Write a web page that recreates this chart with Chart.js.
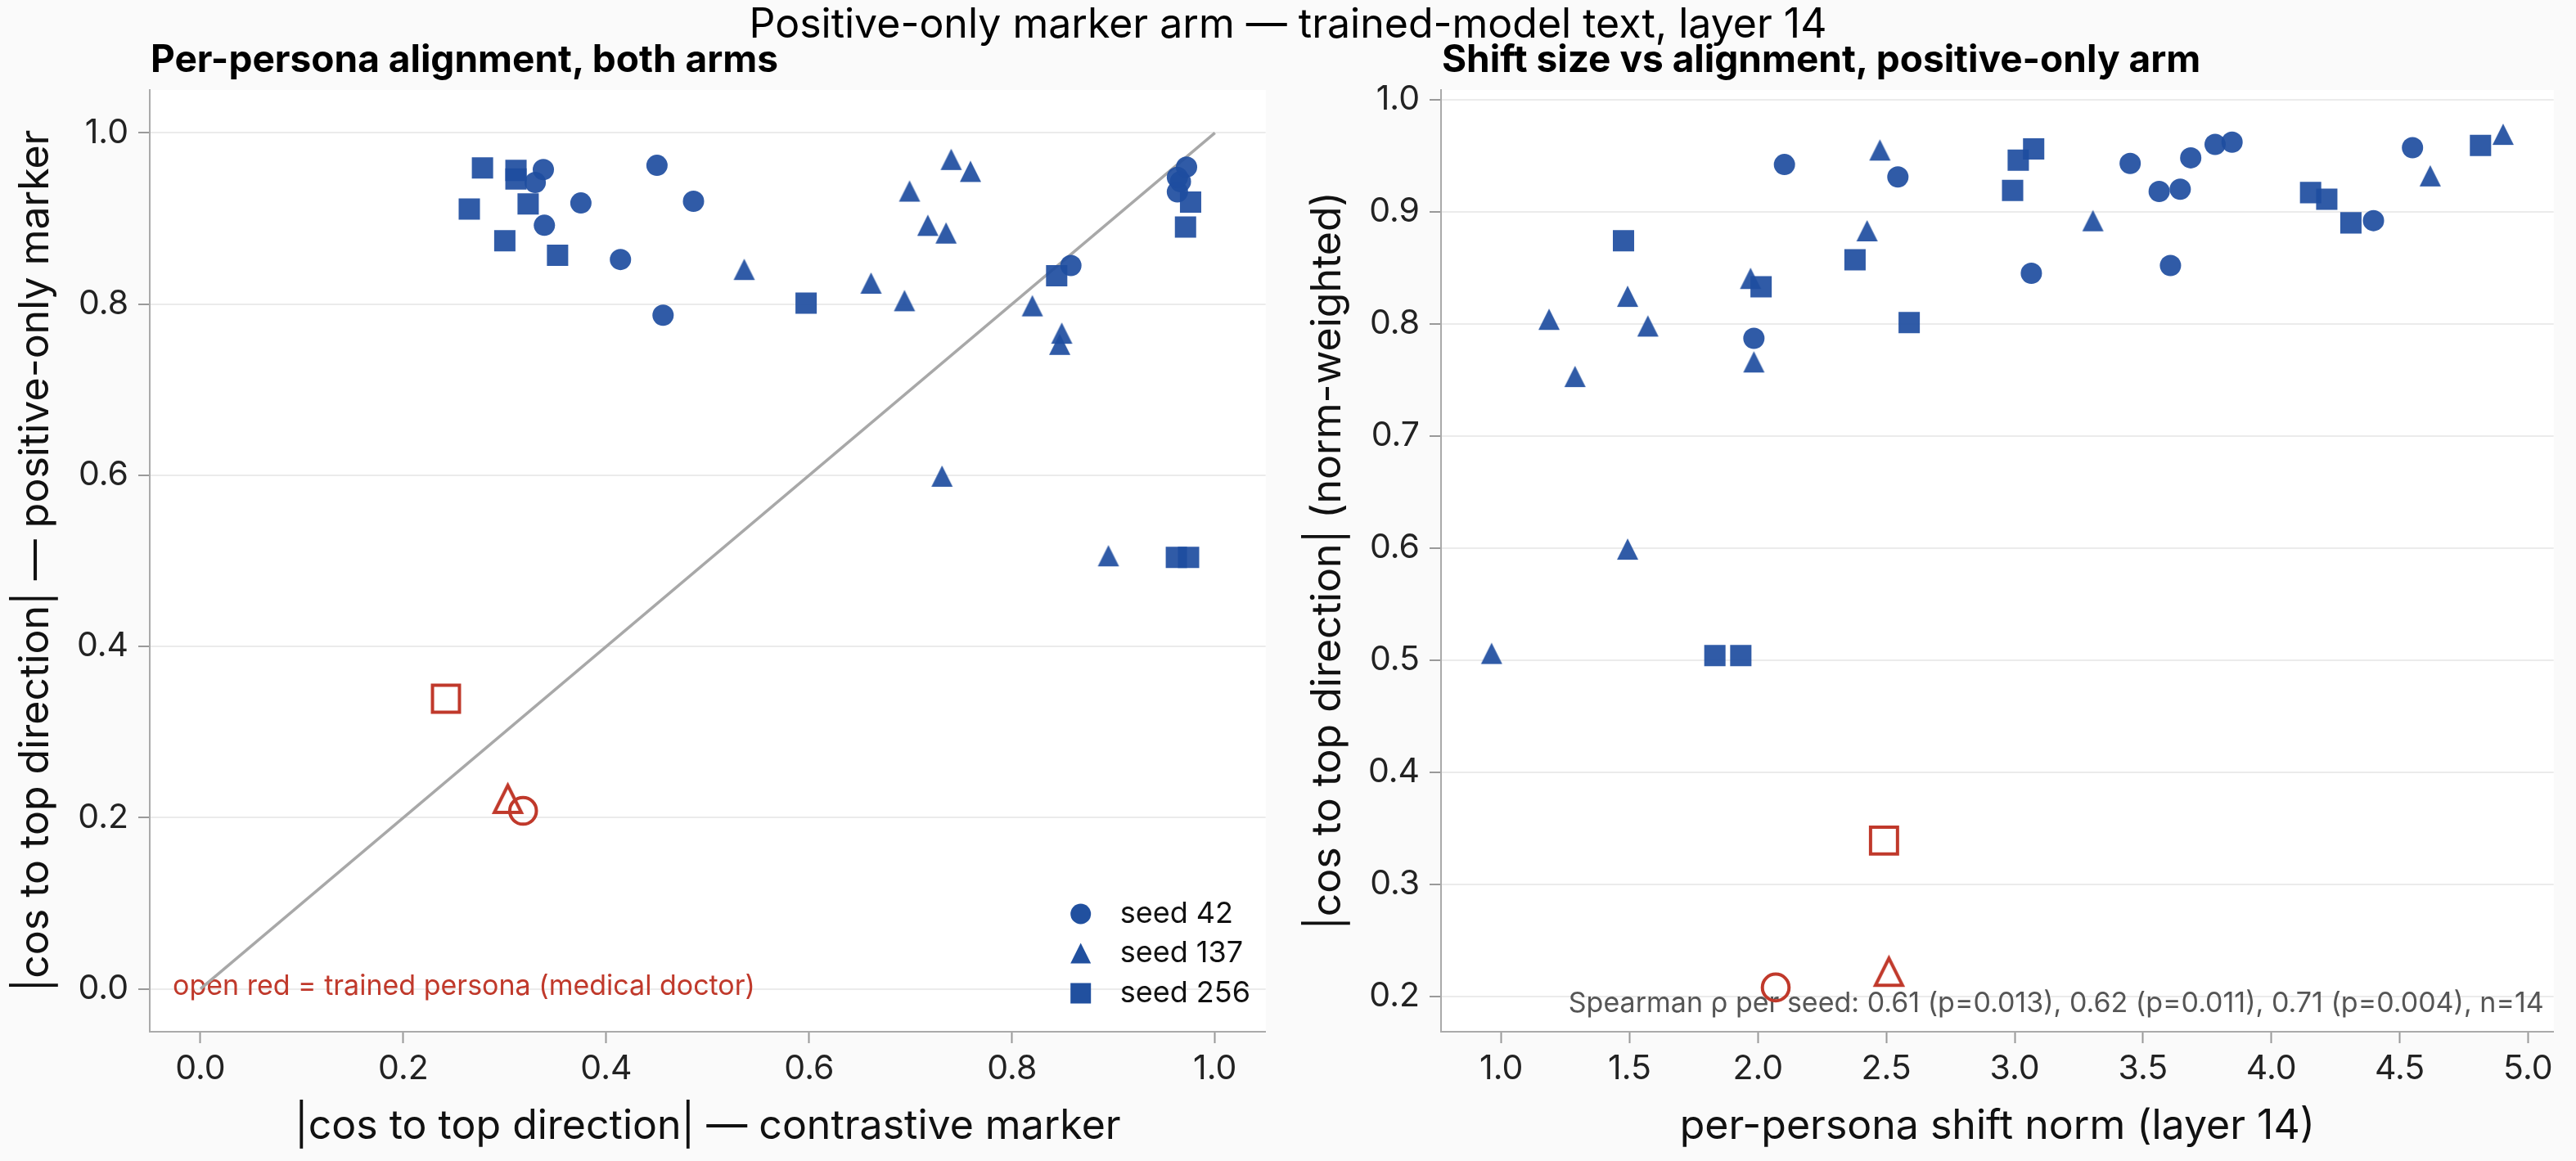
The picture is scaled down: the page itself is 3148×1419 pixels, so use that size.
<!DOCTYPE html>
<html>
<head>
<meta charset="utf-8">
<script src="https://cdn.jsdelivr.net/npm/chart.js@4.4.1/dist/chart.umd.min.js"></script>
<style>
  body { margin: 0; background: #fafafa; }
  #fig { position: relative; width: 3148px; height: 1419px; background: #fafafa; overflow: hidden; }
  .box { position: absolute; top: 0; width: 1574px; height: 1419px; }
  .txt { position: absolute; white-space: nowrap; font-family: Inter, sans-serif; color: #000; line-height: 1; }
</style>
</head>
<body>
<div id="fig">
  <div class="box" style="left:0"><canvas id="left" width="1574" height="1419"></canvas></div>
  <div class="box" style="left:1574px"><canvas id="right" width="1574" height="1419"></canvas></div>
  <div class="txt" style="left:0;width:3148px;text-align:center;top:3px;font-size:50px">Positive-only marker arm — trained-model text, layer 14</div>
  <div class="txt" style="left:184px;top:48px;font-size:46px;font-weight:700">Per-persona alignment, both arms</div>
  <div class="txt" style="left:1762px;top:48px;font-size:46px;font-weight:700">Shift size vs alignment, positive-only arm</div>
</div>
<script>
// seed 42 (circles)
const s42Contrastive = [0.456, 0.858, 0.414, 0.339, 0.375, 0.486, 0.963, 0.330, 0.966, 0.963, 0.338, 0.972, 0.450];
const s42Positive    = [0.787, 0.845, 0.852, 0.892, 0.918, 0.920, 0.931, 0.942, 0.943, 0.948, 0.957, 0.960, 0.962];
const s42Shift       = [1.984, 3.065, 3.607, 4.398, 3.563, 3.645, 2.545, 2.103, 3.450, 3.686, 4.550, 3.781, 3.847];

// seed 137 (triangles)
const s137Contrastive = [0.895, 0.731, 0.847, 0.849, 0.820, 0.694, 0.661, 0.536, 0.735, 0.717, 0.699, 0.759, 0.740];
const s137Positive    = [0.506, 0.599, 0.753, 0.766, 0.798, 0.804, 0.8245, 0.8405, 0.883, 0.892, 0.932, 0.955, 0.969];
const s137Shift       = [0.962, 1.492, 1.287, 1.984, 1.571, 1.186, 1.492, 1.971, 2.425, 3.305, 4.619, 2.475, 4.903];

// seed 256 (squares)
const s256Contrastive = [0.962, 0.974, 0.597, 0.844, 0.352, 0.300, 0.971, 0.265, 0.323, 0.976, 0.311, 0.311, 0.278];
const s256Positive    = [0.504, 0.504, 0.801, 0.833, 0.857, 0.874, 0.890, 0.911, 0.917, 0.919, 0.946, 0.956, 0.959];
const s256Shift       = [1.832, 1.933, 2.589, 2.012, 2.378, 1.476, 4.310, 4.216, 4.153, 2.992, 3.014, 3.074, 4.815];

// trained persona (medical doctor), per seed: 42, 137, 256
const trainedContrastive = [0.318, 0.303, 0.242];
const trainedPositive    = [0.208, 0.222, 0.339];
const trainedShift       = [2.069, 2.510, 2.491];

const seedLabels = ['seed 42', 'seed 137', 'seed 256'];
const leftTicks = [0.0, 0.2, 0.4, 0.6, 0.8, 1.0];
const rightXTicks = [1.0, 1.5, 2.0, 2.5, 3.0, 3.5, 4.0, 4.5, 5.0];
const rightYTicks = [0.2, 0.3, 0.4, 0.5, 0.6, 0.7, 0.8, 0.9, 1.0];
const spearmanNote = 'Spearman ρ per seed: 0.61 (p=0.013), 0.62 (p=0.011), 0.71 (p=0.004), n=14';
const trainedNote = 'open red = trained persona (medical doctor)';

const BLUE = 'rgba(30, 77, 160, 0.92)';
const BLUE_SOLID = '#21509f';
const RED = '#c0392b';
const GRID = '#ebebeb';
const SPINE = '#aaaaaa';

Chart.defaults.font.family = 'Inter, "Noto Sans", sans-serif';
Chart.defaults.color = '#222';

// matplotlib-like '^' marker: centred on its bounding box
function triangleMarker(size, fill, stroke, lineWidth) {
    const pad = stroke ? Math.ceil(lineWidth * 1.6) + 2 : 2;
    const dim = Math.ceil(size) + 2 * pad;
    const c = document.createElement('canvas');
    c.width = dim;
    c.height = dim;
    const g = c.getContext('2d');
    const m = dim / 2, h = size / 2;
    g.beginPath();
    g.moveTo(m, m - h);
    g.lineTo(m - h, m + h);
    g.lineTo(m + h, m + h);
    g.closePath();
    if (fill) { g.fillStyle = fill; g.fill(); }
    if (stroke) { g.strokeStyle = stroke; g.lineWidth = lineWidth; g.lineJoin = 'miter'; g.stroke(); }
    return c;
}

const blueTriangle = triangleMarker(26, BLUE);
const redTriangle = triangleMarker(33, null, RED, 4);

function pts(xs, ys) {
    return xs.map((x, i) => ({ x: x, y: ys[i] }));
}

function seedSets(x42, x137, x256, xTrained) {
    return [
        { label: seedLabels[0], data: pts(x42, s42Positive), pointStyle: 'circle', pointRadius: 13,
          backgroundColor: BLUE, borderWidth: 0, order: 3 },
        { label: seedLabels[1], data: pts(x137, s137Positive), pointStyle: blueTriangle,
          backgroundColor: BLUE, borderWidth: 0, order: 2 },
        { label: seedLabels[2], data: pts(x256, s256Positive), pointStyle: 'rect', pointRadius: 18.4,
          backgroundColor: BLUE, borderWidth: 0, order: 1 },
        { label: 'trained 42', data: [{ x: xTrained[0], y: trainedPositive[0] }], pointStyle: 'circle', pointRadius: 16.3,
          backgroundColor: 'rgba(0,0,0,0)', borderColor: RED, borderWidth: 4, order: 0 },
        { label: 'trained 137', data: [{ x: xTrained[1], y: trainedPositive[1] }], pointStyle: redTriangle,
          backgroundColor: 'rgba(0,0,0,0)', borderWidth: 0, order: 0 },
        { label: 'trained 256', data: [{ x: xTrained[2], y: trainedPositive[2] }], pointStyle: 'rect', pointRadius: 23.3,
          backgroundColor: 'rgba(0,0,0,0)', borderColor: RED, borderWidth: 4, order: 0 }
    ];
}

const whiteArea = {
    id: 'whiteArea',
    beforeDraw(chart) {
        const a = chart.chartArea;
        chart.ctx.save();
        chart.ctx.fillStyle = '#ffffff';
        chart.ctx.fillRect(a.left, a.top, a.right - a.left, a.bottom - a.top);
        chart.ctx.restore();
    }
};

// text notes sit under the markers
function notePlugin(text, color, align, dx, dy) {
    return {
        id: 'note',
        beforeDatasetsDraw(chart) {
            const a = chart.chartArea;
            const ctx = chart.ctx;
            ctx.save();
            ctx.font = '34px Inter, sans-serif';
            ctx.fillStyle = color;
            ctx.textAlign = align;
            ctx.textBaseline = 'middle';
            const x = align === 'left' ? a.left + dx : a.right - dx;
            ctx.fillText(text, x, a.bottom - dy);
            ctx.restore();
        }
    };
}

const seedLegend = {
    id: 'seedLegend',
    afterDatasetsDraw(chart) {
        const a = chart.chartArea;
        const ctx = chart.ctx;
        const mx = a.right - 226, tx = a.right - 178;
        const rows = [a.bottom - 144, a.bottom - 96, a.bottom - 47];
        ctx.save();
        ctx.fillStyle = BLUE_SOLID;
        ctx.beginPath();
        ctx.arc(mx, rows[0], 12.5, 0, Math.PI * 2);
        ctx.fill();
        ctx.beginPath();
        ctx.moveTo(mx, rows[1] - 12.5);
        ctx.lineTo(mx - 12.5, rows[1] + 12.5);
        ctx.lineTo(mx + 12.5, rows[1] + 12.5);
        ctx.closePath();
        ctx.fill();
        ctx.fillRect(mx - 12.5, rows[2] - 12.5, 25, 25);
        ctx.font = '36px Inter, sans-serif';
        ctx.fillStyle = '#111';
        ctx.textAlign = 'left';
        ctx.textBaseline = 'middle';
        seedLabels.forEach((t, i) => ctx.fillText(t, tx, rows[i]));
        ctx.restore();
    }
};

function makeOptions(o) {
    return {
        responsive: false,
        animation: false,
        devicePixelRatio: 1,
        layout: { padding: { top: 110, right: o.padRight, bottom: 0, left: 0 } },
        plugins: { legend: { display: false }, tooltip: { enabled: false } },
        scales: {
            x: {
                type: 'linear',
                min: o.xMin,
                max: o.xMax,
                afterFit: s => { s.height = 158; },
                afterBuildTicks: axis => { axis.ticks = o.xTicks.map(v => ({ value: v })); },
                ticks: { callback: v => v.toFixed(1), font: { size: 41 }, color: '#222', padding: 7, maxRotation: 0, autoSkip: false },
                grid: { drawOnChartArea: false, drawTicks: true, tickLength: 14, tickColor: '#999', tickWidth: 2 },
                border: { display: true, color: SPINE, width: 2 },
                title: { display: true, text: o.xTitle, font: { size: 50 }, color: '#111', padding: { top: 0, bottom: 12 } }
            },
            y: {
                type: 'linear',
                min: o.yMin,
                max: o.yMax,
                afterFit: s => { s.width = o.yWidth; },
                afterBuildTicks: axis => { axis.ticks = o.yTicks.map(v => ({ value: v })); },
                ticks: { callback: v => v.toFixed(1), font: { size: 41 }, color: '#222', padding: 12, autoSkip: false },
                grid: { color: GRID, lineWidth: 2, drawTicks: true, tickLength: 14, tickColor: '#999', tickWidth: 2 },
                border: { display: true, color: SPINE, width: 2 },
                title: { display: true, text: o.yTitle, font: { size: 50 }, color: '#111', padding: { top: o.yTitlePad, bottom: 0 } }
            }
        }
    };
}

// left: both arms
new Chart(document.getElementById('left'), {
    type: 'scatter',
    data: {
        datasets: [
            { label: 'y = x', data: [{ x: 0, y: 0 }, { x: 1, y: 1 }], showLine: true, pointRadius: 0,
              borderColor: '#a8a8a8', borderWidth: 3.5, order: 10 },
            ...seedSets(s42Contrastive, s137Contrastive, s256Contrastive, trainedContrastive)
        ]
    },
    options: makeOptions({
        padRight: 14, yWidth: 183, yTitlePad: 14,
        xMin: -0.05, xMax: 1.05, yMin: -0.05, yMax: 1.05,
        xTicks: leftTicks, yTicks: leftTicks,
        xTitle: '|cos to top direction| — contrastive marker',
        yTitle: '|cos to top direction| — positive-only marker'
    }),
    plugins: [whiteArea, notePlugin(trainedNote, RED, 'left', 28, 55), seedLegend]
});

// right: shift size vs alignment
new Chart(document.getElementById('right'), {
    type: 'scatter',
    data: { datasets: seedSets(s42Shift, s137Shift, s256Shift, trainedShift) },
    options: makeOptions({
        padRight: 10, yWidth: 187, yTitlePad: 19,
        xMin: 0.765, xMax: 5.10, yMin: 0.1685, yMax: 1.0085,
        xTicks: rightXTicks, yTicks: rightYTicks,
        xTitle: 'per-persona shift norm (layer 14)',
        yTitle: '|cos to top direction| (norm-weighted)'
    }),
    plugins: [whiteArea, notePlugin(spearmanNote, '#555555', 'right', 12, 34)]
});
</script>
</body>
</html>
